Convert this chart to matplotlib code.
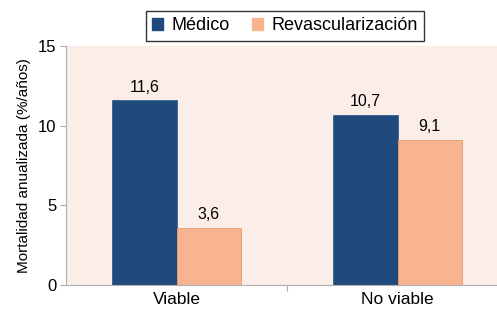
import matplotlib
matplotlib.use('Agg')
import matplotlib.pyplot as plt
from matplotlib.patches import Patch
import numpy as np

plt.rcParams['font.family'] = ['Liberation Sans', 'DejaVu Sans']

# Data
categories = ['Viable', 'No viable']
medico = [11.6, 10.7]
revasc = [3.6, 9.1]
series_names = ['Médico', 'Revascularización']

blue = '#1f4a7e'
orange = '#f8b48e'
bg = '#fbede7'

fig = plt.figure(figsize=(4.97, 3.14), dpi=100)
ax = fig.add_axes([66 / 497, 29 / 314, 442 / 497, 239 / 314])
ax.set_facecolor(bg)

x = np.arange(len(categories))
w = 0.29
ax.bar(x - w / 2, medico, w, color=blue, edgecolor='#3a5f8f', linewidth=0.6)
ax.bar(x + w / 2, revasc, w, color=orange, edgecolor='#e39a72', linewidth=0.6)

for xi, v in zip(x - w / 2, medico):
    ax.text(xi, v + 0.35, f'{v:.1f}'.replace('.', ','), ha='center', va='bottom', fontsize=11.5)
for xi, v in zip(x + w / 2, revasc):
    ax.text(xi, v + 0.35, f'{v:.1f}'.replace('.', ','), ha='center', va='bottom', fontsize=11.5)

ax.set_xlim(-0.5, 1.5)
ax.set_ylim(0, 15)
ax.set_yticks([0, 5, 10, 15])
ax.set_xticks([0.5])
ax.set_xticklabels([''])
ax.set_xticks(x, minor=True)
ax.set_xticklabels(categories, minor=True, fontsize=12.5)
ax.tick_params(axis='x', which='minor', length=0, pad=5)
ax.tick_params(axis='x', which='major', length=4, color='#aaaaaa', direction='out')
ax.tick_params(axis='y', labelsize=12, length=4, color='#aaaaaa', pad=3)
ax.set_ylabel('Mortalidad anualizada (%/años)', fontsize=11, labelpad=5)

for s in ['top', 'right']:
    ax.spines[s].set_visible(False)
ax.spines['left'].set_color('#b0b0b0')
ax.spines['bottom'].set_color('#b0b0b0')

handles = [Patch(facecolor=blue, edgecolor=blue), Patch(facecolor=orange, edgecolor=orange)]
leg = fig.legend(handles, series_names, loc='center', bbox_to_anchor=(285 / 497, 1 - 26 / 314),
                 ncol=2, fontsize=13, frameon=True, fancybox=False, edgecolor='black',
                 handlelength=0.6, handleheight=0.6, handletextpad=0.5, columnspacing=1.2,
                 borderpad=0.35)
leg.get_frame().set_linewidth(1.0)

fig.savefig('out.png', dpi=100)
